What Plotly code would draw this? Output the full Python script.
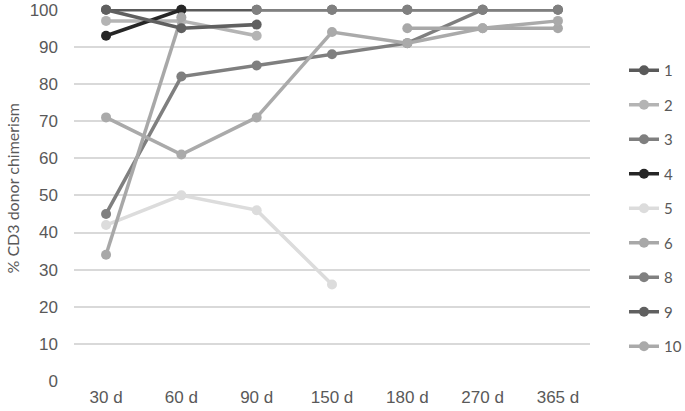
import plotly.graph_objects as go

categories = ["30 d", "60 d", "90 d", "150 d", "180 d", "270 d", "365 d"]
series_names = ["1", "2", "3", "4", "5", "6", "8", "9", "10"]
s1 = [100, 100, 100, 100, 100, 100, 100]
s2 = [97, 97, 93, None, None, None, None]
s3 = [45, 82, 85, 88, 91, 100, 100]
s4 = [93, 100, None, None, None, None, None]
s5 = [42, 50, 46, 26, None, None, None]
s6 = [34, 98, None, None, 95, 95, 95]
s8 = [None, None, 100, 100, 100, 100, None]
s9 = [100, 95, 96, None, None, None, None]
s10 = [71, 61, 71, 94, 91, 95, 97]
values = [s1, s2, s3, s4, s5, s6, s8, s9, s10]
colors = ["#5a5a5a", "#b4b4b4", "#7f7f7f", "#262626", "#dcdcdc", "#a8a8a8", "#808080", "#606060", "#aaaaaa"]
y_ticks = list(range(0, 101, 10))

fig = go.Figure()
for name, vals, c in zip(series_names, values, colors):
    fig.add_trace(go.Scatter(
        x=categories, y=vals, name=name, mode="lines+markers",
        line=dict(color=c, width=3.5), marker=dict(color=c, size=10),
        connectgaps=False, legendgroup=name, cliponaxis=False,
    ))

tick_font = dict(family="Liberation Sans, Arial, sans-serif", size=17, color="#595959")
fig.update_layout(
    width=685, height=411,
    margin=dict(l=74, r=95, t=9, b=30),
    paper_bgcolor="white", plot_bgcolor="white",
    font=dict(family="Lato, sans-serif", size=15, color="#595959"),
    showlegend=True,
    legend=dict(xref="container", yref="container", x=624 / 685, y=1 - 54 / 411,
                xanchor="left", yanchor="top", maxheight=380,
                tracegroupgap=12, font=dict(family="Lato, sans-serif", size=15, color="#595959")),
    xaxis=dict(type="category", showgrid=False, showline=False, zeroline=False,
               ticks="", tickfont=tick_font, automargin=False, ticklabelstandoff=4),
    yaxis=dict(range=[0, 100.2], tickvals=y_ticks, showgrid=True, gridcolor="#d9d9d9", gridwidth=1.5,
               zeroline=False, showline=False, ticks="", ticklabelstandoff=15, automargin=False,
               tickfont=tick_font),
    annotations=[dict(text="% CD3 donor chimerism", textangle=-90, showarrow=False,
                      xref="paper", yref="paper", x=-(74 - 12) / 516, y=(381 - 188.5) / 372,
                      xanchor="center", yanchor="middle",
                      font=dict(family="Lato, sans-serif", size=16, color="#595959"))],
)
fig.write_html("out.html", post_script="document.body.style.margin='0';",
               config={"displayModeBar": False})
